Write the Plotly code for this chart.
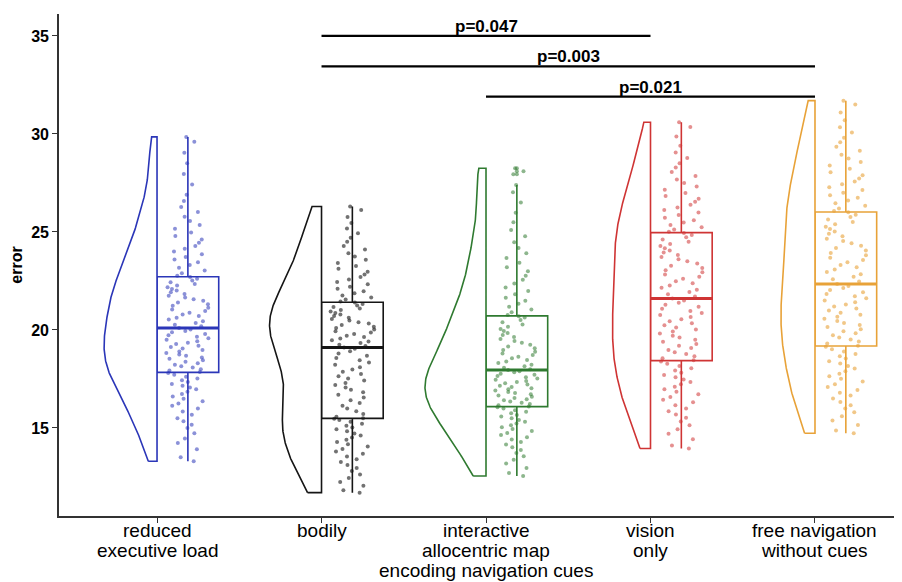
import numpy as np
import plotly.graph_objects as go

# ---------------- data ----------------
CATEGORY_LINES = [
    ["reduced", "executive load"],
    ["bodily"],
    ["interactive", "allocentric map", "encoding navigation cues"],
    ["vision", "only"],
    ["free navigation", "without cues"],
]

reduced_executive_load = [
    13.3,
    13.51, 13.92, 14.24, 14.47, 14.73, 15.0, 15.17, 15.34, 15.5, 15.67, 15.84, 16.0, 16.13, 16.25,
    16.37, 16.49, 16.61, 16.73, 16.85, 16.97, 17.07, 17.16, 17.25, 17.34, 17.43, 17.53, 17.62,
    17.71, 17.8,
    17.85,
    17.93, 18.0, 18.08, 18.15, 18.23, 18.3, 18.38, 18.45, 18.53, 18.6, 18.68, 18.75, 18.83, 18.9,
    18.98, 19.05, 19.13, 19.2, 19.28, 19.35, 19.43, 19.5, 19.58, 19.65, 19.73, 19.8, 19.88, 19.95,
    20.03,
    20.1,
    20.19, 20.27, 20.36, 20.45, 20.53, 20.62, 20.71, 20.79, 20.88, 20.97, 21.05, 21.14, 21.23,
    21.31, 21.4, 21.49, 21.57, 21.66, 21.75, 21.83, 21.92, 22.01, 22.09, 22.18, 22.27, 22.35,
    22.44, 22.53, 22.61,
    22.7,
    22.77, 22.9, 23.04, 23.18, 23.31, 23.45, 23.59, 23.72, 23.86, 24.0, 24.14, 24.29, 24.45,
    24.62, 24.79, 24.97, 25.16, 25.36, 25.56, 25.78, 26.02, 26.28, 26.58, 26.9, 27.42, 27.96,
    28.5, 29.04, 29.6,
    29.85,
]

bodily = [
    11.7,
    11.82, 12.05, 12.25, 12.45, 12.63, 12.8, 12.96, 13.11, 13.26, 13.41, 13.54, 13.68, 13.8,
    13.93, 14.05, 14.17, 14.29, 14.4, 14.51, 14.62, 14.72, 14.83, 14.93, 15.03, 15.12, 15.22,
    15.32, 15.41, 15.47,
    15.5,
    15.57, 15.71, 15.85, 15.99, 16.13, 16.27, 16.41, 16.55, 16.69, 16.82, 16.95, 17.07, 17.19,
    17.3, 17.42, 17.53, 17.64, 17.76, 17.87, 17.99, 18.1, 18.22, 18.34, 18.45, 18.57, 18.69,
    18.8, 18.92, 19.04,
    19.1,
    19.18, 19.25, 19.33, 19.41, 19.48, 19.56, 19.64, 19.71, 19.79, 19.87, 19.94, 20.02, 20.1,
    20.17, 20.25, 20.33, 20.4, 20.48, 20.56, 20.63, 20.71, 20.79, 20.86, 20.94, 21.02, 21.09,
    21.17, 21.25, 21.32,
    21.4,
    21.45, 21.55, 21.66, 21.76, 21.87, 21.98, 22.1, 22.21, 22.33, 22.45, 22.57, 22.7, 22.83,
    22.97, 23.12, 23.27, 23.42, 23.58, 23.75, 23.92, 24.1, 24.29, 24.5, 24.71, 24.94, 25.18,
    25.46, 25.76, 26.12,
    26.3,
]

interactive_allocentric_map = [
    12.55,
    12.7, 12.96, 13.19, 13.38, 13.56, 13.72, 13.88, 14.02, 14.16, 14.29, 14.41, 14.53, 14.64,
    14.74, 14.85, 14.95, 15.04, 15.14, 15.23, 15.32, 15.41, 15.5, 15.58, 15.66, 15.75, 15.83,
    15.91, 15.99, 16.06,
    16.1,
    16.16, 16.22, 16.29, 16.35, 16.41, 16.47, 16.53, 16.6, 16.66, 16.72, 16.78, 16.84, 16.91,
    16.97, 17.03, 17.09, 17.15, 17.22, 17.28, 17.34, 17.4, 17.46, 17.53, 17.59, 17.65, 17.71,
    17.77, 17.84, 17.9,
    17.96,
    18.0, 18.07, 18.15, 18.23, 18.31, 18.39, 18.47, 18.56, 18.64, 18.72, 18.8, 18.89, 18.98,
    19.07, 19.16, 19.25, 19.35, 19.44, 19.54, 19.64, 19.74, 19.84, 19.95, 20.05, 20.16, 20.28,
    20.4, 20.51, 20.64,
    20.7,
    20.77, 20.9, 21.04, 21.19, 21.34, 21.49, 21.65, 21.82, 21.99, 22.17, 22.37, 22.56, 22.77,
    22.99, 23.2, 23.43, 23.67, 23.92, 24.18, 24.47, 24.78, 25.1, 25.5, 25.98, 26.5, 27.03,
    27.4, 27.95, 28.1,
    28.25,
]

vision_only = [
    13.95,
    14.11, 14.42, 14.7, 14.93, 15.14, 15.33, 15.52, 15.69, 15.85, 16.0, 16.16, 16.31, 16.44,
    16.58, 16.72, 16.85, 16.98, 17.11, 17.23, 17.35, 17.47, 17.59, 17.7, 17.82, 17.93, 18.05,
    18.16, 18.28, 18.39,
    18.45,
    18.56, 18.66, 18.77, 18.87, 18.98, 19.08, 19.19, 19.29, 19.4, 19.5, 19.61, 19.71, 19.82,
    19.92, 20.03, 20.13, 20.24, 20.34, 20.45, 20.55, 20.66, 20.76, 20.87, 20.97, 21.08, 21.18,
    21.29, 21.39, 21.5,
    21.6,
    21.71, 21.82, 21.94, 22.05, 22.16, 22.27, 22.38, 22.49, 22.61, 22.72, 22.83, 22.94, 23.05,
    23.16, 23.28, 23.39, 23.5, 23.61, 23.72, 23.83, 23.95, 24.06, 24.17, 24.28, 24.39, 24.5,
    24.62, 24.73, 24.84,
    24.95,
    25.01, 25.12, 25.24, 25.36, 25.48, 25.6, 25.73, 25.86, 25.99, 26.12, 26.25, 26.39, 26.54,
    26.69, 26.84, 26.99, 27.15, 27.32, 27.5, 27.68, 27.86, 28.06, 28.29, 28.51, 28.78, 29.06,
    29.4, 29.87, 30.35,
    30.6,
]

free_navigation = [
    14.73,
    14.87, 15.15, 15.38, 15.6, 15.8, 15.99, 16.16, 16.33, 16.5, 16.66, 16.8, 16.94, 17.09,
    17.23, 17.37, 17.51, 17.64, 17.77, 17.9, 18.03, 18.16, 18.29, 18.41, 18.54, 18.66, 18.78,
    18.9, 19.02, 19.14,
    19.2,
    19.31, 19.41, 19.52, 19.62, 19.73, 19.83, 19.94, 20.04, 20.15, 20.25, 20.36, 20.46, 20.57,
    20.67, 20.78, 20.88, 20.99, 21.09, 21.2, 21.3, 21.41, 21.51, 21.62, 21.72, 21.83, 21.93,
    22.04, 22.14, 22.25,
    22.35,
    22.47, 22.59, 22.72, 22.84, 22.96, 23.08, 23.2, 23.32, 23.45, 23.57, 23.69, 23.81, 23.93,
    24.05, 24.18, 24.3, 24.42, 24.54, 24.66, 24.78, 24.91, 25.03, 25.15, 25.27, 25.39, 25.51,
    25.64, 25.76, 25.88,
    26.0,
    26.07, 26.2, 26.34, 26.47, 26.61, 26.74, 26.87, 27.0, 27.14, 27.28, 27.43, 27.58, 27.73,
    27.89, 28.05, 28.22, 28.39, 28.57, 28.75, 28.94, 29.14, 29.35, 29.58, 29.81, 30.08, 30.34,
    30.7, 31.1, 31.5,
    31.7,
]

SERIES = [reduced_executive_load, bodily, interactive_allocentric_map, vision_only, free_navigation]

# significance comparisons (category index pairs), bracket heights, labels
SIG_PAIRS = [(1, 3), (1, 4), (2, 4)]
SIG_HEIGHTS = [35.0, 33.45, 31.9]
SIG_LABELS = ["p=0.047", "p=0.003", "p=0.021"]

Y_TICKS = [15, 20, 25, 30, 35]

# ---------------- style ----------------
LINE_COLORS = ["#2b36b8", "#151515", "#2f7a30", "#cf3434", "#e8a238"]
POINT_COLORS = ["rgba(43,54,184,0.55)", "rgba(20,20,20,0.6)", "rgba(47,122,48,0.55)",
                "rgba(207,52,52,0.55)", "rgba(232,162,56,0.6)"]
VIOLIN_HALF = [0.322, 0.316, 0.371, 0.231, 0.207]   # max half-violin width (x units)
BW_ADJUST = 0.9
BOX_OFFSET = 0.1875
BOX_WIDTH = 0.375
FONT = "Liberation Sans, Arial, sans-serif"
LABEL_FIRST_OFFSET = 14.5   # px below the x axis (centre of first label line)
LABEL_LINE_STEP = 20        # px between label lines


def kde_outline(vals, n=300):
    """Gaussian KDE (R's nrd0 bandwidth x adjust), trimmed to the data range."""
    v = np.asarray(vals, dtype=float)
    q1, q3 = np.percentile(v, [25, 75])
    bw = BW_ADJUST * 0.9 * min(v.std(ddof=1), (q3 - q1) / 1.34) * len(v) ** -0.2
    grid = np.linspace(v.min(), v.max(), n)
    dens = np.exp(-0.5 * ((grid[:, None] - v[None, :]) / bw) ** 2).sum(axis=1)
    return grid, dens / dens.max()


fig = go.Figure()

for i, vals in enumerate(SERIES):
    c = LINE_COLORS[i]
    # flat (half) violin, closed along the category position
    grid, dens = kde_outline(vals)
    xs = list(i - VIOLIN_HALF[i] * dens) + [i, i, i - VIOLIN_HALF[i] * dens[0]]
    ys = list(grid) + [grid[-1], grid[0], grid[0]]
    fig.add_trace(go.Scatter(x=xs, y=ys, mode="lines", fill="toself", fillcolor="white",
                             line=dict(color=c, width=1.6), hoverinfo="skip"))
    # jittered raw points
    fig.add_trace(go.Box(
        x0=i + BOX_OFFSET, y=vals, width=BOX_WIDTH, boxpoints="all", jitter=0.72, pointpos=0,
        line=dict(width=0, color="rgba(0,0,0,0)"), fillcolor="rgba(0,0,0,0)",
        marker=dict(color=POINT_COLORS[i], size=4, line=dict(width=0)),
    ))
    # box plot (outliers drawn at the box centre)
    fig.add_trace(go.Box(
        x0=i + BOX_OFFSET, y=vals, width=BOX_WIDTH, boxpoints="outliers", jitter=0, pointpos=0,
        whiskerwidth=0, line=dict(color=c, width=1.6), fillcolor="rgba(0,0,0,0)",
        marker=dict(color=POINT_COLORS[i], size=4, line=dict(width=0)),
    ))
    # thicker median line
    med = float(np.median(vals))
    fig.add_trace(go.Scatter(
        x=[i + BOX_OFFSET - BOX_WIDTH / 2, i + BOX_OFFSET + BOX_WIDTH / 2], y=[med, med],
        mode="lines", line=dict(color=c, width=3), hoverinfo="skip",
    ))

annotations = []
for (a, b), h, lab in zip(SIG_PAIRS, SIG_HEIGHTS, SIG_LABELS):
    fig.add_trace(go.Scatter(x=[a, b], y=[h, h], mode="lines",
                             line=dict(color="black", width=2.2), hoverinfo="skip"))
    annotations.append(dict(x=(a + b) / 2, y=h, text=lab, showarrow=False, yanchor="bottom",
                            xanchor="center", yshift=-2,
                            font=dict(family=FONT, size=17, color="black", weight="bold")))

# category labels (one text per line, ggplot-like tight line spacing)
for i, lines in enumerate(CATEGORY_LINES):
    for k, line in enumerate(lines):
        annotations.append(dict(x=i, xref="x", y=0, yref="paper", text=line, showarrow=False,
                                xanchor="center", yanchor="middle",
                                yshift=-(LABEL_FIRST_OFFSET + LABEL_LINE_STEP * k),
                                font=dict(family=FONT, size=19, color="black")))

# the page body adds an 8 px offset, so the figure is 8 px smaller than the window
fig.update_layout(
    width=894, height=574, margin=dict(l=51, r=0, t=6, b=66),
    plot_bgcolor="white", paper_bgcolor="white", showlegend=False,
    boxmode="overlay", annotations=annotations,
    font=dict(family=FONT, color="black"),
)
fig.update_xaxes(
    range=[-0.596, 4.529], tickmode="array", tickvals=list(range(len(CATEGORY_LINES))),
    showticklabels=False, showgrid=False, zeroline=False, showline=True, automargin=False,
    linecolor="#333333", linewidth=1.6, ticks="outside", ticklen=5, tickcolor="#333333",
    tickwidth=1.2,
)
fig.update_yaxes(
    range=[10.51, 36.12], tickmode="array", tickvals=Y_TICKS, showgrid=False, zeroline=False,
    showline=True, automargin=False, linecolor="#333333", linewidth=1.6, ticks="outside",
    ticklen=5, tickcolor="#333333", tickwidth=1.2,
    tickfont=dict(family=FONT, size=16, color="black", weight="bold"),
    title=dict(text="error", standoff=6, font=dict(family=FONT, size=16, color="black", weight="bold")),
)

fig.write_html("out.html")
